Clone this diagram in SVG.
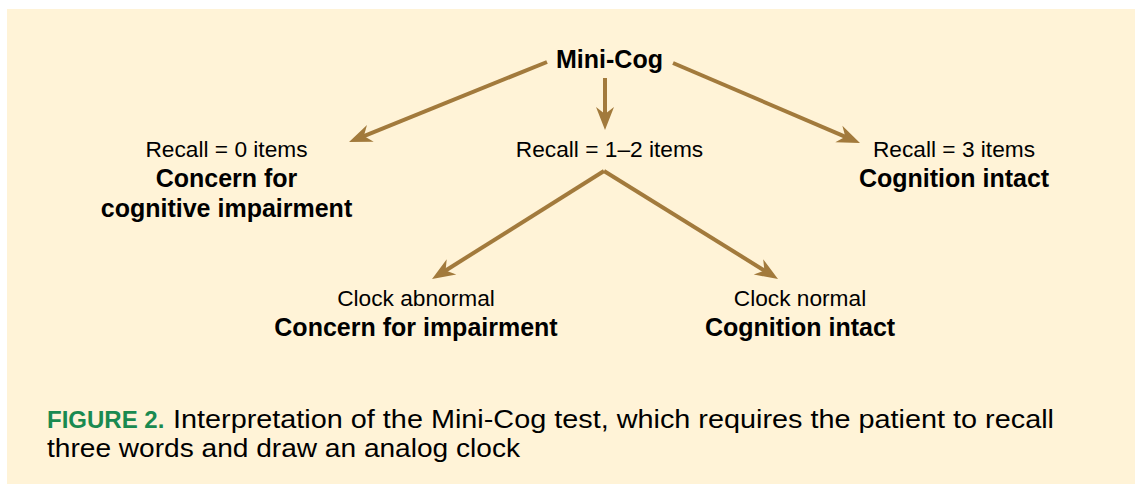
<svg xmlns="http://www.w3.org/2000/svg" width="1135" height="484" viewBox="0 0 1135 484">
<style>
.t{font-family:"Liberation Sans",Arial,sans-serif;fill:#000;text-anchor:middle}
.r{font-size:22.7px}
.b{font-size:25px;font-weight:bold}
.c{font-family:"Liberation Sans",Arial,sans-serif;font-size:25.5px;fill:#000}
.g{fill:#1a8a50;font-weight:bold;font-size:24px}
.arr{stroke:#a27a3c;stroke-width:4;fill:none;marker-end:url(#ah)}
</style>
<defs>
<marker id="ah" markerUnits="userSpaceOnUse" viewBox="-14 -10 26 20" refX="0" refY="0" markerWidth="26" markerHeight="20" orient="auto">
<path d="M10,0 L-13,-9 L-6,0 L-13,9 Z" fill="#a27a3c"/>
</marker>
</defs>
<rect x="7" y="9" width="1128" height="475" fill="#fff3d7"/>
<g id="connectors">
<line class="arr" x1="547" y1="62" x2="358.3" y2="138.3"/>
<line class="arr" x1="605" y1="78" x2="605" y2="120"/>
<line class="arr" x1="673" y1="63" x2="850.8" y2="139.1"/>
<line class="arr" x1="604" y1="171" x2="440.5" y2="273.7"/>
<line class="arr" x1="604" y1="171" x2="769.5" y2="273.7"/>
</g>
<g id="mini-cog"><text class="t b" x="609.5" y="68">Mini-Cog</text></g>
<g id="recall0">
<text class="t r" x="226.5" y="157">Recall = 0 items</text>
<text class="t b" x="226.5" y="187">Concern for</text>
<text class="t b" x="226.5" y="217">cognitive impairment</text>
</g>
<g id="recall12"><text class="t r" x="609.5" y="157">Recall = 1–2 items</text></g>
<g id="recall3">
<text class="t r" x="954" y="157">Recall = 3 items</text>
<text class="t b" x="954" y="187">Cognition intact</text>
</g>
<g id="clock-abnormal">
<text class="t r" x="416" y="306">Clock abnormal</text>
<text class="t b" x="416" y="336">Concern for impairment</text>
</g>
<g id="clock-normal">
<text class="t r" x="800" y="306">Clock normal</text>
<text class="t b" x="800" y="336">Cognition intact</text>
</g>
<g id="caption">
<text class="c g" x="47" y="428">FIGURE 2.</text>
<text class="c" x="173" y="428" textLength="881" lengthAdjust="spacingAndGlyphs">Interpretation of the Mini-Cog test, which requires the patient to recall</text>
<text class="c" x="47" y="457" textLength="473" lengthAdjust="spacingAndGlyphs">three words and draw an analog clock</text>
</g>
</svg>
